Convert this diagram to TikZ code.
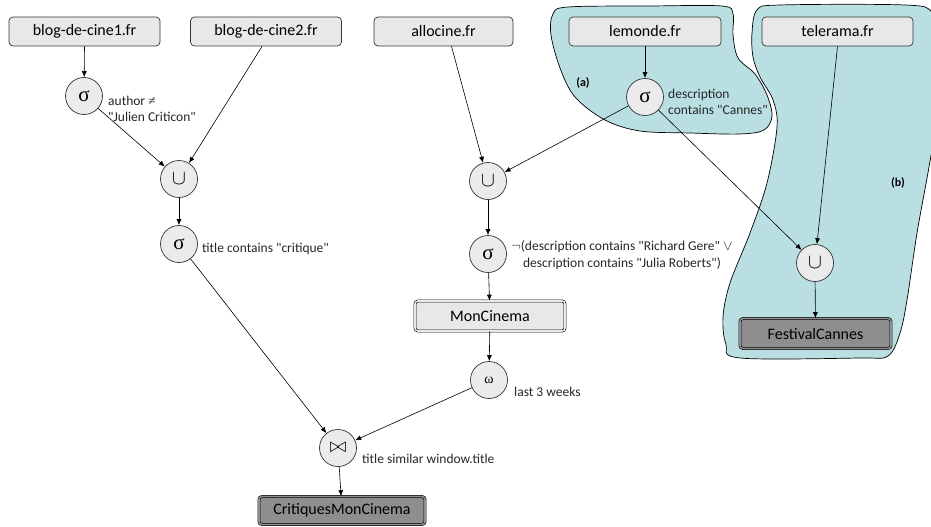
\documentclass[tikz,border=0pt]{standalone}
\usepackage{fontspec}
\setmainfont{Carlito}
\newfontfamily\plainfont{Carlito}
\newfontfamily\symfont{Liberation Serif}
\usetikzlibrary{arrows.meta}
\definecolor{srcfill}{HTML}{E8E8E8}
\definecolor{opfill}{HTML}{EBEBEB}
\definecolor{darkfill}{HTML}{8E8E8E}
\definecolor{blobfill}{HTML}{B9DFE3}
\definecolor{edgecol}{HTML}{333333}
\begin{document}
\begin{tikzpicture}[x=1pt,y=-1pt,
  srcbox/.style={draw=edgecol, line width=0.7pt, fill=srcfill, rounded corners=4pt,
    minimum width=151pt, minimum height=29pt, inner sep=0pt, font=\plainfont\fontsize{16}{18}\selectfont},
  viewbox/.style={draw=black, line width=0.6pt, double=srcfill, double distance=1.6pt, fill=srcfill, rounded corners=3pt,
    minimum width=150pt, minimum height=30pt, inner sep=0pt, font=\plainfont\fontsize{16}{18}\selectfont},
  darkbox/.style={viewbox, double=darkfill, fill=darkfill},
  op/.style={circle, draw=edgecol, line width=0.7pt, fill=opfill, minimum size=37pt, inner sep=0pt,
    font=\fontsize{17}{17}\selectfont},
  sig/.style={op, font=\symfont\fontsize{21}{21}\selectfont},
  uni/.style={op, font=\fontsize{21}{21}\selectfont},
  ann/.style={font=\plainfont\fontsize{13.5}{16.5}\selectfont, inner sep=0pt, text=black!85},
  tag/.style={font=\plainfont\fontsize{12}{14}\selectfont\bfseries, inner sep=0pt},
  arr/.style={-{Latex[length=6pt,width=5pt]}, line width=0.6pt, draw=black},
  blob/.style={draw=black, line width=0.7pt, fill=blobfill}
]
\useasboundingbox (0,0) rectangle (931,527);

% blobs
\draw[blob] plot[smooth cycle, tension=0.55] coordinates {
  (553,14) (568,7) (650,6) (722,6) (733,14) (733,35) (738,58) (755,74) (767,95)
  (772,116) (764,130) (740,134) (690,133) (640,131) (605,120) (575,97) (560,68) (551,35)};
\draw[blob] plot[smooth cycle, tension=0.55] coordinates {
  (757,10) (780,5) (905,5) (932,12) (945,40) (940,100) (929,167) (917,233) (907,300)
  (900,333) (888,356) (860,358) (740,358) (726,344) (723,317) (730,283) (750,233)
  (767,183) (777,127) (773,100) (760,77) (753,57) (752,33)};
\node[tag] (ta) at (583,83) {(a)};
\node[tag] (tb) at (898,183) {(b)};

% sources
\node[srcbox] (b1) at (84.5,31.5) {blog-de-cine1.fr};
\node[srcbox] (b2) at (266,31.5) {blog-de-cine2.fr};
\node[srcbox, minimum width=139pt] (allo) at (443.5,31.5) {allocine.fr};
\node[srcbox, minimum width=152pt] (lem) at (645,31.5) {lemonde.fr};
\node[srcbox] (tel) at (837.5,31.5) {telerama.fr};

% operators
\node[sig] (s1) at (84,96) {σ};
\node[uni] (u1) at (179,179) {$\cup$};
\node[sig] (s2) at (179,244) {σ};
\node[sig] (sa) at (645,97) {σ};
\node[uni] (u2) at (488,181) {$\cup$};
\node[sig] (s3) at (488,254) {σ};
\node[op, font=\symfont\fontsize{14}{14}\selectfont] (om) at (489,380) {ω};
\node[op, font=\fontsize{20}{20}\selectfont] (jn) at (338,448) {$\bowtie$};
\node[uni] (u3) at (815,263) {$\cup$};

% views
\node[viewbox] (mon) at (490,316) {MonCinema};
\node[darkbox, minimum width=151pt] (fest) at (815.5,333.5) {FestivalCannes};
\node[darkbox, minimum width=166pt, minimum height=28pt] (crit) at (342,510.5) {CritiquesMonCinema};

% annotations
\node[ann, anchor=west, align=left] (l1) at (108,109) {author {\symfont ≠}\\"Julien Criticon"};
\node[ann, anchor=west] (l2) at (202,249) {title contains "critique"};
\node[ann, anchor=west, align=left] (la) at (668,102) {description\\contains "Cannes"};
\node[ann, align=center] (l3) at (622,255) {$\neg$(description contains "Richard Gere" $\vee$\\description contains "Julia Roberts")};
\node[ann, anchor=west] (l4) at (514,392) {last 3 weeks};
\node[ann, anchor=west] (l5) at (362,459) {title similar window.title};

% connectors
\draw[arr] (b1.south) -- (s1);
\draw[arr] (s1) -- (u1);
\draw[arr] ([xshift=-4pt]b2.south) -- (u1);
\draw[arr] (u1) -- (s2);
\draw[arr] (s2) -- (jn);
\draw[arr] ([xshift=8pt]allo.south) -- (u2);
\draw[arr] (lem.south) -- (sa);
\draw[arr] (sa) -- (u2);
\draw[arr] (sa) -- (u3);
\draw[arr] (tel.south) -- (u3);
\draw[arr] (u2) -- (s3);
\draw[arr] (s3) -- (mon);
\draw[arr] (mon) -- (om);
\draw[arr] (om) -- (jn);
\draw[arr] (jn) -- (crit);
\draw[arr] (u3) -- (fest);
\end{tikzpicture}
\end{document}
